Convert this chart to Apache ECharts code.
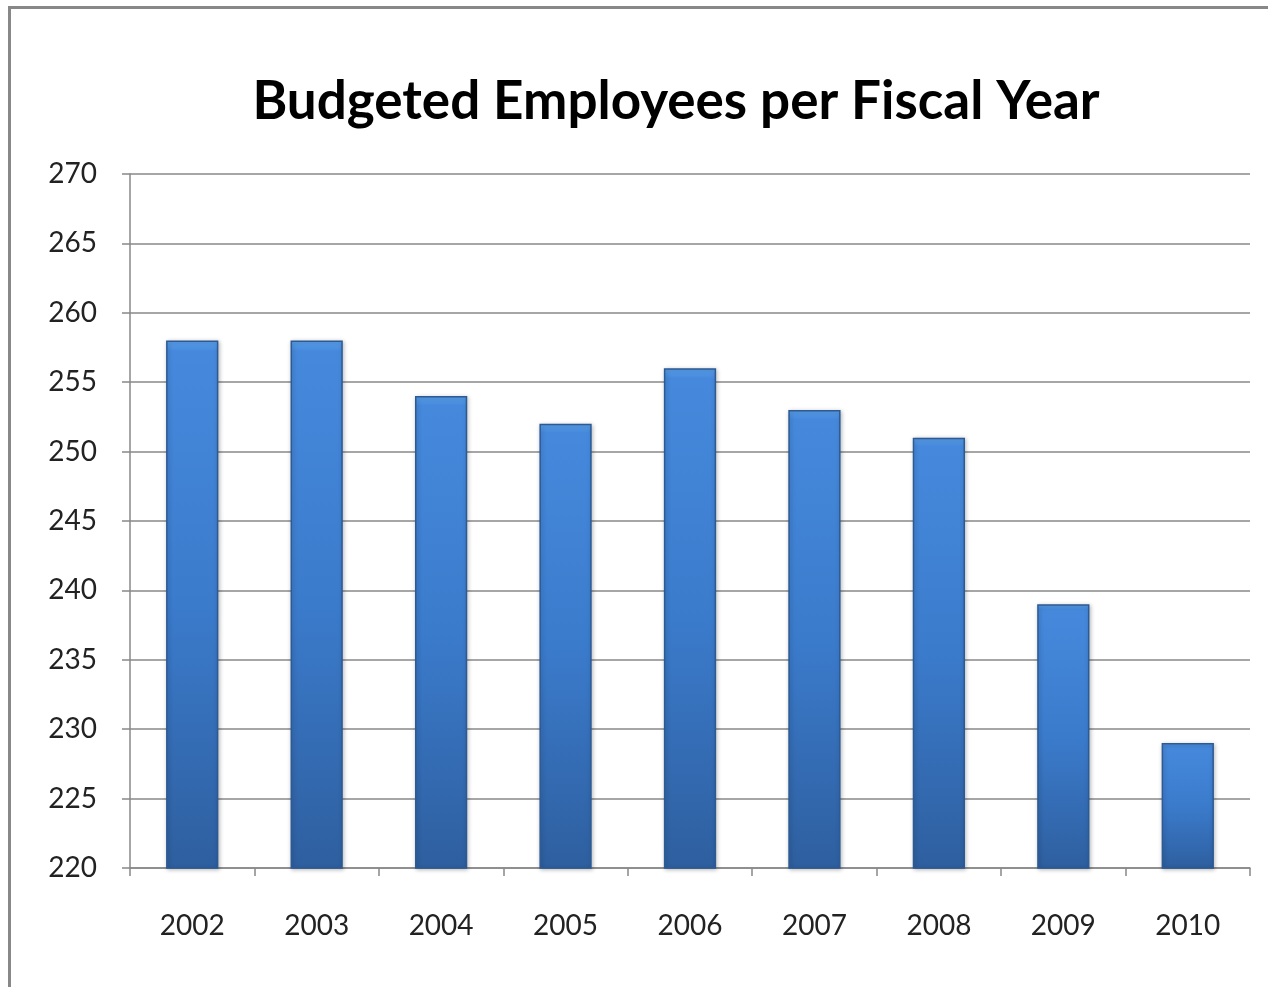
<!DOCTYPE html>
<html>
<head>
<meta charset="utf-8">
<script src="https://cdn.jsdelivr.net/npm/echarts@6/dist/echarts.min.js"></script>
<style>
html,body{margin:0;padding:0;background:#fff;}
#c{width:1268px;height:987px;}
</style>
</head>
<body>
<div id="c"></div>
<script>
const categories = ['2002','2003','2004','2005','2006','2007','2008','2009','2010'];
const employees = [258, 258, 254, 252, 256, 253, 251, 239, 229];
const yTicks = { min: 220, max: 270, interval: 5 };

const chart = echarts.init(document.getElementById('c'));
chart.setOption({
  animation: false,
  backgroundColor: '#fff',
  title: {
    text: 'Budgeted Employees per Fiscal Year',
    left: 671, top: 70, textAlign: 'center',
    textStyle: { fontFamily: 'Lato', fontWeight: 'bold', fontSize: 53, color: '#000' }
  },
  graphic: [{
    type: 'rect', silent: true, z: -1,
    shape: { x: 9.5, y: 7.5, width: 1400, height: 1200 },
    style: { fill: 'none', stroke: '#888', lineWidth: 3 }
  }],
  grid: { left: 130, right: 18, top: 174, bottom: 119 },
  xAxis: {
    type: 'category', data: categories,
    axisLine: { lineStyle: { color: '#888', width: 1.5 } },
    axisTick: { show: true, length: 8, lineStyle: { color: '#888', width: 1.5 } },
    axisLabel: { margin: 44, fontFamily: 'Lato', fontSize: 28, color: '#222' }
  },
  yAxis: {
    type: 'value', min: yTicks.min, max: yTicks.max, interval: yTicks.interval,
    axisLine: { show: true, lineStyle: { color: '#888', width: 1.5 } },
    axisTick: { show: true, length: 8, lineStyle: { color: '#888', width: 1.5 } },
    splitLine: { lineStyle: { color: '#888', width: 1.5 } },
    axisLabel: { margin: 33, fontFamily: 'Lato', fontSize: 28, color: '#222' }
  },
  series: [{
    type: 'bar', data: employees, barWidth: '42%',
    itemStyle: {
      color: {
        type: 'linear', x: 0, y: 0, x2: 0, y2: 1,
        colorStops: [
          { offset: 0, color: '#5aa0ec' },
          { offset: 0.02, color: '#4689dc' },
          { offset: 0.5, color: '#3b7bcc' },
          { offset: 1, color: '#2e5f9f' }
        ]
      },
      borderColor: '#2b5a95', borderWidth: 1.5,
      shadowColor: 'rgba(0,0,0,0.25)', shadowBlur: 4, shadowOffsetX: 1, shadowOffsetY: 1
    }
  }]
});
</script>
</body>
</html>
